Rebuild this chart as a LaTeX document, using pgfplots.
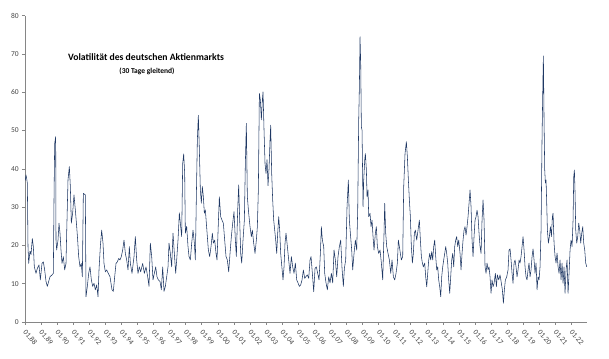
\documentclass[border=0pt]{standalone}
\usepackage{fontspec}
\setmainfont{Carlito}
\usepackage{pgfplots}
\pgfplotsset{compat=1.18}
\usepackage{pgfplotstable}
\definecolor{linec}{RGB}{31,56,100}
\definecolor{axisc}{RGB}{134,134,134}
\definecolor{tickc}{RGB}{70,70,70}

\pgfplotstableread{
t v
0.02 37.0
0.062 38.4
0.104 37.5
0.145 36.3
0.187 19.7
0.228 15.3
0.311 18.5
0.373 17.6
0.456 21.8
0.519 19.7
0.581 14.4
0.685 12.7
0.767 14.0
0.871 14.9
0.954 11.0
1.058 15.3
1.141 15.7
1.224 13.6
1.307 10.6
1.390 9.3
1.473 10.6
1.556 11.8
1.680 12.3
1.763 12.7
1.805 31.9
1.846 46.6
1.909 48.4
1.929 21.4
1.971 18.8
2.054 21.4
2.116 25.8
2.178 23.2
2.240 18.8
2.303 15.3
2.385 17.1
2.469 13.6
2.551 15.3
2.593 23.2
2.676 37.1
2.759 40.6
2.821 35.4
2.883 25.8
2.966 28.5
3.049 33.2
3.132 29.3
3.215 25.0
3.277 21.4
3.339 17.1
3.423 14.4
3.505 15.3
3.568 11.8
3.630 33.6
3.754 33.2
3.796 6.6
3.879 9.3
3.962 12.7
4.045 14.4
4.128 11.0
4.211 9.3
4.294 10.1
4.377 8.4
4.460 9.7
4.543 6.6
4.605 13.6
4.688 19.7
4.771 24.0
4.854 20.6
4.916 15.3
4.999 13.1
5.082 13.6
5.186 12.7
5.290 11.8
5.414 8.4
5.497 8.0
5.580 11.8
5.663 15.3
5.746 15.7
5.829 16.6
5.912 16.2
5.995 17.1
6.078 18.8
6.161 21.4
6.244 17.9
6.327 16.2
6.410 13.6
6.493 19.7
6.555 15.3
6.659 12.7
6.783 17.1
6.866 22.3
6.949 16.2
7.032 12.7
7.115 14.4
7.198 13.1
7.323 15.3
7.426 12.7
7.530 14.4
7.634 11.8
7.717 9.3
7.799 20.6
7.883 17.1
7.965 11.0
8.048 12.7
8.131 14.4
8.214 11.8
8.297 11.0
8.401 10.6
8.484 8.4
8.567 14.4
8.650 8.0
8.733 9.3
8.816 11.8
8.899 14.4
8.961 20.6
9.044 17.9
9.127 14.4
9.210 23.2
9.293 17.9
9.376 12.7
9.438 16.2
9.521 21.4
9.604 28.5
9.666 25.8
9.749 22.3
9.812 41.4
9.874 43.9
9.936 38.8
9.977 23.2
10.060 25.0
10.143 19.7
10.206 17.1
10.289 16.2
10.372 20.6
10.455 24.0
10.538 20.6
10.600 16.2
10.662 32.7
10.724 47.5
10.786 54.0
10.849 45.0
10.911 34.5
10.973 31.0
11.035 35.4
11.098 32.7
11.160 28.4
11.222 29.3
11.284 25.8
11.347 22.3
11.409 18.8
11.492 17.1
11.575 19.7
11.658 23.2
11.720 20.6
11.803 21.4
11.886 17.9
11.948 16.2
12.031 25.8
12.093 32.7
12.176 27.5
12.259 26.6
12.342 25.8
12.425 21.4
12.508 17.1
12.591 16.2
12.674 13.1
12.757 17.9
12.840 22.3
12.923 25.8
13.006 28.8
13.089 21.4
13.151 17.1
13.234 29.2
13.296 35.8
13.359 26.6
13.421 17.9
13.483 15.4
13.566 21.4
13.649 26.6
13.711 41.4
13.773 51.9
13.835 32.7
13.918 28.4
14.002 24.9
14.084 22.3
14.147 24.0
14.230 20.6
14.313 17.9
14.396 21.4
14.458 24.9
14.520 34.5
14.583 59.7
14.645 58.0
14.707 52.8
14.769 58.0
14.811 60.1
14.873 50.1
14.935 41.4
14.997 38.8
15.060 42.4
15.122 35.6
15.184 39.9
15.246 47.5
15.288 51.4
15.350 38.8
15.412 31.9
15.475 26.6
15.537 24.0
15.599 21.4
15.661 17.9
15.724 23.2
15.786 27.5
15.848 24.0
15.910 17.9
15.972 14.9
16.055 11.0
16.118 14.4
16.180 20.6
16.242 23.2
16.325 19.7
16.408 16.2
16.491 12.7
16.574 17.1
16.657 14.4
16.740 12.7
16.823 15.4
16.906 11.0
16.989 10.2
17.072 9.3
17.155 9.7
17.238 11.0
17.321 13.6
17.404 11.4
17.487 11.9
17.570 12.3
17.653 11.4
17.736 16.2
17.798 17.1
17.881 12.7
17.964 7.9
18.047 14.0
18.130 14.4
18.213 12.7
18.296 11.0
18.379 17.9
18.441 24.9
18.503 21.4
18.586 19.7
18.649 12.7
18.731 10.2
18.814 8.4
18.897 11.8
18.980 10.2
19.063 12.7
19.146 10.2
19.229 18.8
19.312 16.2
19.395 11.8
19.478 17.1
19.561 19.7
19.644 21.4
19.727 14.0
19.810 9.3
19.872 14.0
19.955 16.2
20.038 30.1
20.121 37.1
20.183 26.6
20.245 23.2
20.328 18.8
20.390 13.6
20.474 17.9
20.557 21.4
20.640 18.8
20.702 29.2
20.764 52.7
20.806 61.4
20.847 74.5
20.889 67.6
20.930 51.0
20.972 50.1
21.034 30.1
21.076 37.1
21.138 42.3
21.179 44.0
21.242 39.7
21.283 32.7
21.345 34.5
21.387 27.5
21.469 28.4
21.532 24.9
21.594 26.6
21.656 22.3
21.718 18.8
21.801 23.2
21.863 24.9
21.925 19.7
22.008 17.9
22.092 18.8
22.174 15.4
22.258 11.0
22.340 23.2
22.382 31.0
22.444 23.2
22.507 19.7
22.590 17.9
22.673 16.2
22.756 12.7
22.839 16.2
22.921 11.8
23.004 11.0
23.087 12.7
23.170 15.4
23.232 21.4
23.295 19.7
23.357 17.9
23.419 16.2
23.502 17.1
23.564 35.3
23.647 44.0
23.730 47.1
23.793 43.1
23.855 37.1
23.917 31.9
23.979 27.5
24.041 19.7
24.104 15.4
24.166 17.9
24.228 23.2
24.290 24.0
24.373 21.4
24.456 24.0
24.539 26.6
24.602 21.4
24.664 17.1
24.726 15.4
24.788 14.4
24.871 15.4
24.933 11.8
24.996 9.2
25.058 12.7
25.120 16.2
25.182 17.9
25.245 16.2
25.307 18.4
25.369 16.2
25.431 19.7
25.493 21.4
25.556 17.1
25.618 13.6
25.680 14.4
25.742 11.0
25.805 9.2
25.867 6.6
25.929 11.8
25.991 14.4
26.053 16.2
26.116 17.9
26.178 19.7
26.240 17.9
26.302 15.4
26.365 11.0
26.427 7.5
26.489 11.8
26.551 16.2
26.614 17.9
26.676 14.4
26.738 19.7
26.800 21.4
26.862 22.3
26.925 19.7
26.987 21.4
27.070 17.9
27.132 13.6
27.194 17.9
27.257 21.4
27.319 24.0
27.381 24.9
27.443 22.7
27.506 24.9
27.568 27.5
27.630 31.0
27.692 34.5
27.755 30.1
27.817 21.4
27.879 17.1
27.941 22.3
28.004 26.6
28.066 27.5
28.128 29.2
28.190 27.5
28.252 23.2
28.315 19.7
28.377 17.9
28.439 26.6
28.501 31.9
28.564 26.6
28.626 14.4
28.688 12.7
28.750 15.4
28.813 13.6
28.875 14.4
28.937 11.8
28.999 7.5
29.061 11.0
29.124 9.2
29.186 10.1
29.269 12.7
29.331 9.2
29.393 12.3
29.476 11.0
29.559 12.3
29.642 10.1
29.704 8.4
29.767 4.9
29.829 8.4
29.891 11.0
29.974 11.8
30.057 13.6
30.119 18.8
30.182 19.1
30.244 16.2
30.306 12.7
30.368 10.1
30.431 15.4
30.493 16.2
30.555 14.4
30.617 11.8
30.679 13.6
30.742 16.2
30.804 15.4
30.866 17.1
30.928 19.7
30.991 22.3
31.053 18.8
31.115 14.4
31.177 11.8
31.239 11.0
31.302 13.6
31.364 15.4
31.426 11.8
31.488 13.6
31.551 17.1
31.613 19.1
31.675 16.2
31.737 12.7
31.800 15.4
31.862 8.4
31.924 11.8
31.986 11.0
32.048 14.4
32.111 24.0
32.173 48.4
32.235 64.9
32.256 69.5
32.297 52.8
32.339 39.7
32.380 36.3
32.422 37.1
32.463 31.0
32.505 24.0
32.567 20.6
32.629 22.3
32.692 24.9
32.754 22.3
32.816 27.5
32.858 28.4
32.920 20.6
32.982 17.1
33.044 15.4
33.107 18.0
33.169 14.4
33.231 12.7
33.293 16.2
33.355 11.0
33.418 15.4
33.480 10.1
33.542 14.4
33.604 7.5
33.667 13.6
33.729 16.2
33.791 7.5
33.853 12.7
33.916 18.8
33.978 21.4
34.040 19.7
34.102 26.6
34.144 37.9
34.185 39.7
34.227 33.6
34.268 24.0
34.330 20.6
34.393 22.3
34.455 25.8
34.517 24.0
34.579 20.6
34.642 23.2
34.704 24.9
34.766 20.6
34.828 18.8
34.890 15.4
34.953 14.4
}\voldata

\begin{document}
\begin{tikzpicture}
\path[use as bounding box] (-25pt,-36pt) rectangle (584pt,322pt);
\begin{axis}[
  at={(0pt,0pt)}, anchor=south west,
  scale only axis, width=562pt, height=306.3pt,
  xmin=0, xmax=34.97, ymin=0, ymax=80,
  axis x line*=bottom, axis y line*=left,
  axis line style={draw=axisc, line width=0.8pt, -},
  xtick={0,...,34},
  xticklabels={01.88,01.89,01.90,01.91,01.92,01.93,01.94,01.95,01.96,01.97,01.98,01.99,01.00,01.01,01.02,01.03,01.04,01.05,01.06,01.07,01.08,01.09,01.10,01.11,01.12,01.13,01.14,01.15,01.16,01.17,01.18,01.19,01.20,01.21,01.22},
  ytick={0,10,...,80},
  tick style={draw=axisc, line width=0.6pt},
  tick align=outside, major tick length=3pt,
  /pgf/number format/assume math mode=true,
  xticklabel style={font=\fontsize{7.5}{8}\selectfont, text=tickc, rotate=-50, anchor=north west, inner sep=1pt, xshift=3pt},
  yticklabel style={font=\fontsize{7.5}{8}\selectfont, text=tickc, inner sep=1pt, xshift=-2pt},
]
\addplot[linec, line width=0.55pt, line join=round] table[x=t, y=v] {\voldata};
\end{axis}
\node[font=\bfseries\fontsize{9.7}{12}\selectfont] at (121pt,265pt) {Volatilität des deutschen Aktienmarkts};
\node[font=\bfseries\fontsize{7.5}{9}\selectfont] at (122pt,251pt) {(30 Tage gleitend)};
\end{tikzpicture}
\end{document}
